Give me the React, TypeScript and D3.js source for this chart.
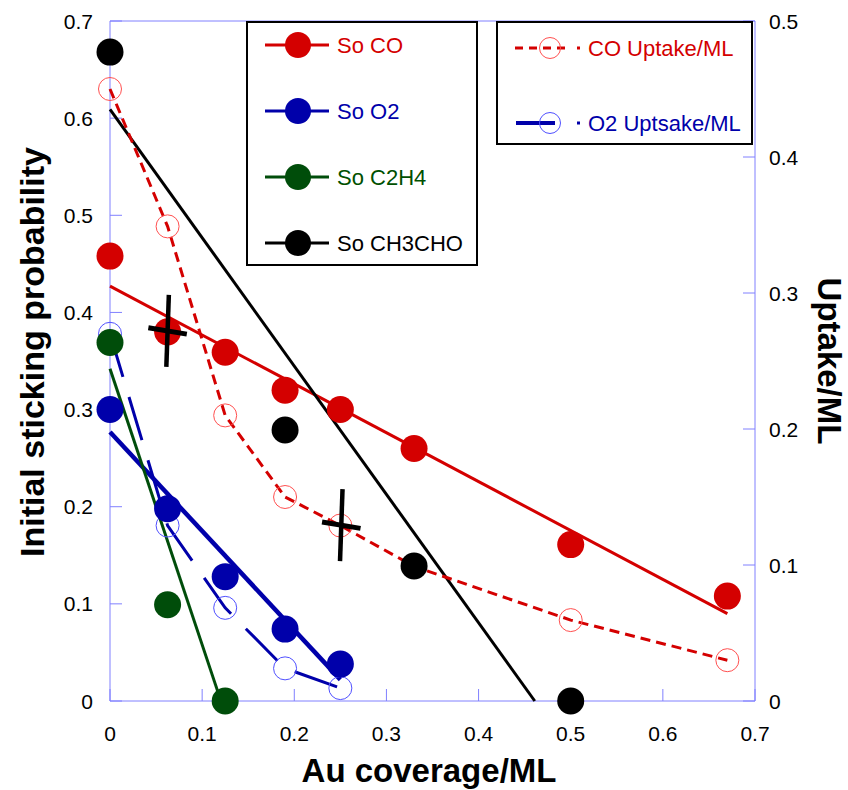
import React from "react";
import * as d3 from "d3";

// ---------- data ----------
const xTicks = [0, 0.1, 0.2, 0.3, 0.4, 0.5, 0.6, 0.7];
const yLeftTicks = [0, 0.1, 0.2, 0.3, 0.4, 0.5, 0.6, 0.7];
const yRightTicks = [0, 0.1, 0.2, 0.3, 0.4, 0.5];

const coX = [0, 0.0625, 0.125, 0.19, 0.25, 0.33, 0.5, 0.67];
const coSo = [0.458, 0.38, 0.359, 0.32, 0.3, 0.26, 0.161, 0.108];
const coFitX = [0, 0.67];
const coFitY = [0.427, 0.09];

const o2X = [0, 0.0625, 0.125, 0.19, 0.25];
const o2So = [0.3, 0.198, 0.128, 0.074, 0.038];
const o2FitX = [0, 0.25];
const o2FitY = [0.277, 0.022];

const c2h4X = [0, 0.0625, 0.125];
const c2h4So = [0.369, 0.099, 0];
const c2h4FitX = [0, 0.119];
const c2h4FitY = [0.342, 0.004];

const ch3choX = [0, 0.19, 0.33, 0.5];
const ch3choSo = [0.668, 0.279, 0.139, 0];
const ch3choFitX = [0, 0.461];
const ch3choFitY = [0.609, 0];

const coUpX = [0, 0.0625, 0.125, 0.19, 0.25, 0.33, 0.5, 0.67];
const coUp = [0.45, 0.349, 0.21, 0.15, 0.129, 0.099, 0.0595, 0.03];

const o2UpX = [0, 0.0625, 0.125, 0.19, 0.25];
const o2Up = [0.27, 0.129, 0.0685, 0.024, 0.0095];

const crossX = [0.0625, 0.251];
const crossY = [0.381, 0.181];

const legend1Labels = ["So CO", "So O2", "So C2H4", "So CH3CHO"];
const legend2Labels = ["CO Uptake/ML", "O2 Uptsake/ML"];

// ---------- styles ----------
const RED = "#d40000";
const BLUE = "#0000aa";
const GREEN = "#004d0a";
const BLACK = "#000000";
const AXIS = "#8080ff";
const FONT = "'Liberation Sans', Arial, sans-serif";

const W = 848;
const H = 790;
const X0 = 110, X1 = 755, Y0 = 701, Y1 = 21;

export default function App() {
  const x = d3.scaleLinear().domain([0, 0.7]).range([X0, X1]);
  const yL = d3.scaleLinear().domain([0, 0.7]).range([Y0, Y1]);
  const yR = d3.scaleLinear().domain([0, 0.5]).range([Y0, Y1]);

  const lineL = (xs: number[], ys: number[]) =>
    d3.line<number>().x((_, i) => x(xs[i])).y((_, i) => yL(ys[i]))(ys.map((v) => v)) || "";
  const lineR = (xs: number[], ys: number[]) =>
    d3.line<number>().x((_, i) => x(xs[i])).y((_, i) => yR(ys[i]))(ys.map((v) => v)) || "";

  const filled = (xs: number[], ys: number[], color: string) =>
    xs.map((v, i) => <circle key={i} cx={x(v)} cy={yL(ys[i])} r={13.5} fill={color} />);
  const open = (xs: number[], ys: number[], color: string) =>
    xs.map((v, i) => (
      <circle key={i} cx={x(v)} cy={yR(ys[i])} r={11.5} fill="none" stroke={color} strokeWidth={1} />
    ));

  const fitColors = [RED, BLUE, GREEN, BLACK];
  const lg1Y = [45, 111, 177, 243];
  const lg2Y = [48, 123];

  return (
    <svg width={W} height={H} style={{ position: "absolute", left: 0, top: 0, background: "#fff" }} fontFamily={FONT}>
      <rect x={0} y={0} width={W} height={H} fill="#fff" />
      {/* frame */}
      <line x1={X0} y1={Y1} x2={X1} y2={Y1} stroke={AXIS} strokeWidth={1} />
      <line x1={X0} y1={Y0} x2={X1} y2={Y0} stroke={AXIS} strokeWidth={1} />
      <line x1={X0} y1={Y1} x2={X0} y2={Y0} stroke={AXIS} strokeWidth={1} />
      <line x1={X1} y1={Y1} x2={X1} y2={Y0} stroke={AXIS} strokeWidth={1} />
      {/* ticks */}
      {xTicks.map((t) => (
        <g key={"xt" + t}>
          <line x1={x(t)} x2={x(t)} y1={Y0} y2={Y0 - 12} stroke={AXIS} strokeWidth={1} />
          <text x={x(t)} y={741} fontSize={21} textAnchor="middle" fill="#000">{t}</text>
        </g>
      ))}
      {yLeftTicks.map((t) => (
        <g key={"yl" + t}>
          <line x1={X0} x2={X0 + 12} y1={yL(t)} y2={yL(t)} stroke={AXIS} strokeWidth={1} />
          <text x={93} y={yL(t) + 7.5} fontSize={21} textAnchor="end" fill="#000">{t}</text>
        </g>
      ))}
      {yRightTicks.map((t) => (
        <g key={"yr" + t}>
          <line x1={X1} x2={X1 - 12} y1={yR(t)} y2={yR(t)} stroke={AXIS} strokeWidth={1} />
          <text x={769} y={yR(t) + 7.5} fontSize={21} textAnchor="start" fill="#000">{t}</text>
        </g>
      ))}
      {/* axis titles */}
      <text x={429} y={782} fontSize={33} fontWeight="bold" textAnchor="middle">Au coverage/ML</text>
      <text transform={`translate(44,352) rotate(-90)`} fontSize={34} fontWeight="bold" textAnchor="middle">
        Initial sticking probability
      </text>
      <text transform={`translate(818,361) rotate(90)`} fontSize={33} fontWeight="bold" textAnchor="middle">
        Uptake/ML
      </text>

      {/* fit lines */}
      <path d={lineL(coFitX, coFitY)} stroke={RED} strokeWidth={3} fill="none" />
      <path d={lineL(o2FitX, o2FitY)} stroke={BLUE} strokeWidth={4.5} fill="none" />
      <path d={lineL(c2h4FitX, c2h4FitY)} stroke={GREEN} strokeWidth={3} fill="none" />
      <path d={lineL(ch3choFitX, ch3choFitY)} stroke={BLACK} strokeWidth={3} fill="none" />

      {/* uptake lines */}
      <path d={lineR(coUpX, coUp)} stroke={RED} strokeWidth={3} fill="none" strokeDasharray="10,6" />
      <path d={lineR(o2UpX, o2Up)} stroke={BLUE} strokeWidth={3} fill="none" strokeDasharray="45,21" />
      {open(coUpX, coUp, "#ff5050")}
      {open(o2UpX, o2Up, "#5050ff")}

      {/* filled points */}
      {filled(coX, coSo, RED)}
      {filled(o2X, o2So, BLUE)}
      {filled(c2h4X, c2h4So, GREEN)}
      {filled(ch3choX, ch3choSo, BLACK)}

      {/* crosses */}
      {crossX.map((cx, i) => (
        <g key={"cr" + i} transform={`translate(${x(cx)},${yL(crossY[i])})`}>
          <line x1={-19.5} x2={19.5} y1={0} y2={0} stroke="#000" strokeWidth={5} transform="rotate(9.5)" />
          <line x1={0} x2={0} y1={-36} y2={36} stroke="#000" strokeWidth={4.5} transform="rotate(2)" />
        </g>
      ))}

      {/* legend 1 */}
      <rect x={247} y={22} width={230} height={243} fill="#fff" stroke="#000" strokeWidth={2} />
      {legend1Labels.map((lab, i) => (
        <g key={"l1" + i}>
          <line x1={265} x2={329} y1={lg1Y[i]} y2={lg1Y[i]} stroke={fitColors[i]} strokeWidth={3} />
          <circle cx={298} cy={lg1Y[i]} r={13} fill={fitColors[i]} />
          <text x={337} y={lg1Y[i] + 8} fontSize={22} fill={fitColors[i] === GREEN ? "#005000" : fitColors[i]}>{lab}</text>
        </g>
      ))}

      {/* legend 2 */}
      <rect x={497} y={22} width={255} height={122} fill="#fff" stroke="#000" strokeWidth={2} />
      <line x1={515} x2={570} y1={lg2Y[0]} y2={lg2Y[0]} stroke={RED} strokeWidth={3} strokeDasharray="8,6" />
      <circle cx={550} cy={lg2Y[0]} r={10.5} fill="none" stroke="#ff5050" strokeWidth={1} />
      <rect x={577} y={lg2Y[0] - 1.5} width={3} height={3} fill={RED} />
      <text x={588} y={lg2Y[0] + 8} fontSize={22} fill={RED}>{legend2Labels[0]}</text>
      <line x1={516} x2={555} y1={lg2Y[1]} y2={lg2Y[1]} stroke={BLUE} strokeWidth={4} />
      <circle cx={550} cy={lg2Y[1]} r={10.5} fill="none" stroke="#5050ff" strokeWidth={1} />
      <rect x={577} y={lg2Y[1] - 1.5} width={3} height={3} fill={BLUE} />
      <text x={588} y={lg2Y[1] + 8} fontSize={22} fill={BLUE}>{legend2Labels[1]}</text>
    </svg>
  );
}
